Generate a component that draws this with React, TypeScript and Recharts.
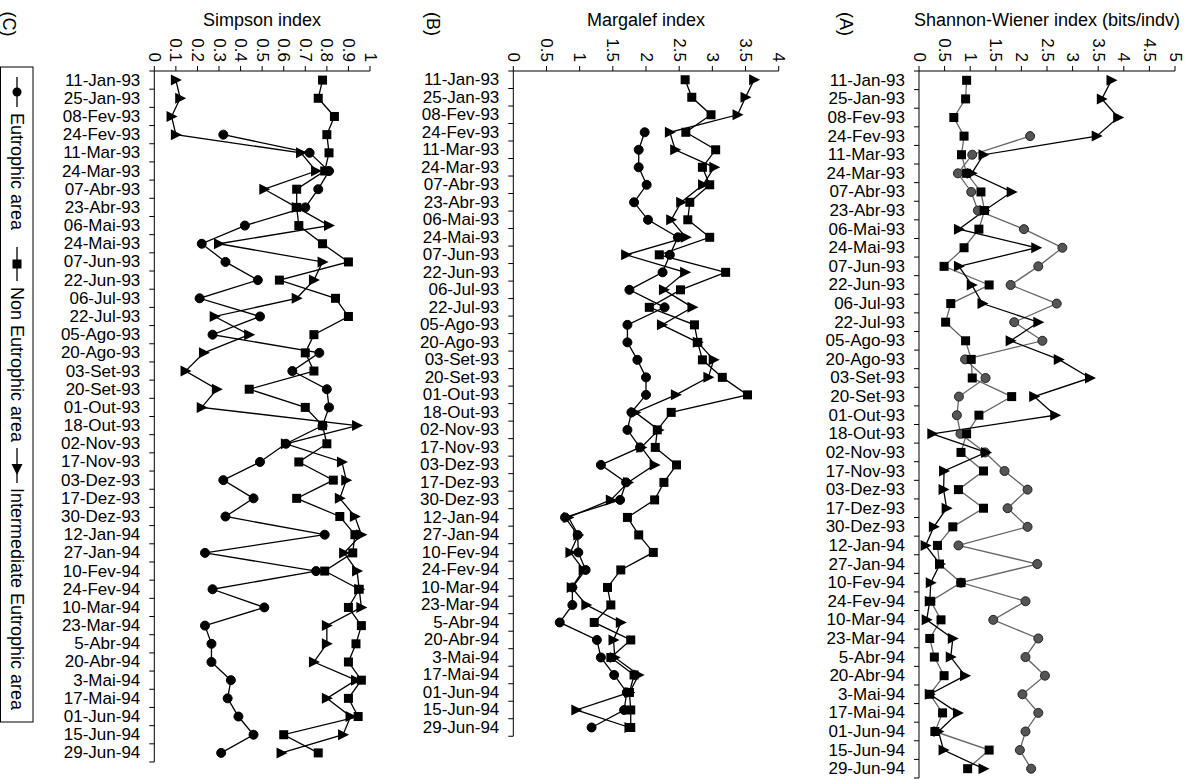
import React from 'react';
import { LineChart, Line, XAxis, YAxis } from 'recharts';

// sampling dates (category axis, same for all three panels)
const dates = [
  '11-Jan-93', '25-Jan-93', '08-Fev-93', '24-Fev-93', '11-Mar-93', '24-Mar-93', '07-Abr-93', '23-Abr-93',
  '06-Mai-93', '24-Mai-93', '07-Jun-93', '22-Jun-93', '06-Jul-93', '22-Jul-93', '05-Ago-93', '20-Ago-93',
  '03-Set-93', '20-Set-93', '01-Out-93', '18-Out-93', '02-Nov-93', '17-Nov-93', '03-Dez-93', '17-Dez-93',
  '30-Dez-93', '12-Jan-94', '27-Jan-94', '10-Fev-94', '24-Fev-94', '10-Mar-94', '23-Mar-94', '5-Abr-94',
  '20-Abr-94', '3-Mai-94', '17-Mai-94', '01-Jun-94', '15-Jun-94', '29-Jun-94',
];

// (C) Simpson index
const simpsonEut = [null, null, null, 0.32, 0.72, 0.81, 0.76, 0.70, 0.42, 0.22, 0.33, 0.48, 0.21, 0.49, 0.27, 0.765, 0.64, 0.80, 0.81, 0.78, 0.61, 0.49, 0.32, 0.46, 0.33, 0.79, 0.235, 0.75, 0.27, 0.51, 0.235, 0.265, 0.265, 0.355, 0.34, 0.39, 0.46, 0.31];
const simpsonNon = [0.78, 0.76, 0.835, 0.80, 0.81, 0.79, 0.66, 0.66, 0.67, 0.78, 0.90, 0.58, 0.84, 0.90, 0.74, 0.70, 0.74, 0.44, 0.70, 0.78, 0.80, 0.67, 0.83, 0.66, 0.86, 0.93, 0.92, 0.79, 0.95, 0.90, 0.96, 0.935, 0.90, 0.96, 0.90, 0.945, 0.60, 0.76];
const simpsonInt = [0.10, 0.12, 0.08, 0.10, 0.68, 0.75, 0.51, 0.66, 0.81, 0.30, 0.78, 0.74, 0.66, 0.28, 0.44, 0.23, 0.145, 0.29, 0.22, 0.94, 0.61, 0.87, 0.89, 0.86, 0.93, 0.96, 0.88, 0.94, 0.95, 0.96, 0.80, 0.80, 0.74, 0.935, 0.80, 0.91, 0.875, 0.59];

// (B) Margalef index
const margalefEut = [null, null, null, 1.98, 1.89, 1.89, 2.01, 1.82, 2.03, 2.48, 2.36, 2.25, 1.75, 2.28, 1.72, 1.72, 1.87, 2.00, 2.00, 1.78, 1.72, 1.91, 1.32, 1.70, 1.61, 0.78, 0.97, 0.98, 1.09, 0.89, 0.89, 0.70, 1.26, 1.32, 1.52, 1.71, 1.67, 1.18];
const margalefNon = [2.59, 2.69, 2.98, 2.60, 3.05, 2.85, 2.96, 2.66, 2.63, 2.96, 2.20, 3.20, 2.52, 2.05, 2.73, 2.78, 2.85, 3.15, 3.53, 2.38, 2.17, 2.14, 2.46, 2.27, 2.13, 1.72, 1.89, 2.11, 1.62, 1.42, 1.47, 1.22, 1.77, 1.47, 1.82, 1.75, 1.77, 1.77];
const margalefInt = [3.63, 3.50, 3.38, 2.36, 2.44, 3.03, 2.86, 2.53, 2.38, 2.60, 1.70, 2.59, 2.27, 2.70, 2.24, 2.78, 3.02, 2.94, 2.45, 1.84, 2.19, 1.93, 2.13, 1.73, 1.47, 0.83, 0.98, 0.86, 1.06, 0.88, 1.10, 1.62, 1.51, 1.53, 1.89, 1.75, 0.95, 1.75];

// (A) Shannon-Wiener index
const shannonEut = [null, null, null, 2.17, 1.04, 0.76, 1.02, 1.15, 2.05, 2.80, 2.33, 1.79, 2.69, 1.86, 2.41, 0.90, 1.30, 0.78, 0.74, 0.81, 1.29, 1.67, 2.12, 1.73, 2.12, 0.77, 2.31, 0.82, 2.08, 1.45, 2.33, 2.08, 2.46, 2.02, 2.33, 2.08, 1.97, 2.19];
const shannonNon = [0.93, 0.91, 0.68, 0.88, 0.83, 0.93, 1.21, 1.28, 1.17, 0.88, 0.49, 1.37, 0.62, 0.52, 0.91, 1.02, 1.04, 1.81, 1.17, 0.93, 0.82, 1.26, 0.77, 1.26, 0.66, 0.36, 0.40, 0.82, 0.23, 0.43, 0.21, 0.30, 0.49, 0.21, 0.46, 0.31, 1.37, 0.95];
const shannonInt = [3.76, 3.57, 3.89, 3.47, 1.26, 1.03, 1.81, 1.28, 0.78, 2.29, 0.78, 1.03, 1.24, 2.33, 1.79, 2.73, 3.34, 2.25, 2.66, 0.26, 1.31, 0.49, 0.48, 0.54, 0.29, 0.13, 0.41, 0.23, 0.21, 0.15, 0.66, 0.62, 0.90, 0.21, 0.76, 0.38, 0.48, 1.26];

const simpsonTicks = [0, 0.1, 0.2, 0.3, 0.4, 0.5, 0.6, 0.7, 0.8, 0.9, 1];
const margalefTicks = [0, 0.5, 1, 1.5, 2, 2.5, 3, 3.5, 4];
const shannonTicks = [0, 0.5, 1, 1.5, 2, 2.5, 3, 3.5, 4, 4.5, 5];

const FONT = '"Liberation Sans", Arial, Helvetica, sans-serif';
const TOP = 71;

function buildRows(eut: (number | null)[], non: number[], int: number[]) {
  return dates.map((d, i) => ({ date: d, eut: eut[i], non: non[i], int: int[i] }));
}

const ok = (v: any) => typeof v === 'number' && Number.isFinite(v);

const circleDot = (fill: string, stroke: string) => (p: any) => {
  if (!ok(p.cx) || !ok(p.cy) || p.value == null) return <g key={`c${p.index}`} />;
  return <circle key={`c${p.index}`} cx={p.cx} cy={p.cy} r={4.5} fill={fill} stroke={stroke} strokeWidth={1} />;
};

const squareDot = (p: any) => {
  if (!ok(p.cx) || !ok(p.cy)) return <g key={`s${p.index}`} />;
  return <rect key={`s${p.index}`} x={p.cx - 4.5} y={p.cy - 4.5} width={9} height={9} fill="#000" />;
};

const triangleDot = (p: any) => {
  if (!ok(p.cx) || !ok(p.cy)) return <g key={`t${p.index}`} />;
  const { cx, cy } = p;
  return <polygon key={`t${p.index}`} points={`${cx - 5},${cy - 5.5} ${cx + 6},${cy} ${cx - 5},${cy + 5.5}`} fill="#000" />;
};

const XTick = (p: any) => (
  <text
    x={p.x}
    y={p.y}
    transform={`rotate(90 ${p.x} ${p.y})`}
    textAnchor="end"
    dominantBaseline="central"
    fontSize={17}
    fontFamily={FONT}
    fill="#000"
  >
    {String(p.payload.value)}
  </text>
);

const makeYTick = (half: number, margin: number) => (p: any) => {
  const ax = p.x + margin;
  return (
    <g key={`y${p.index}`}>
      <text x={p.x} y={p.y} textAnchor="end" dominantBaseline="central" fontSize={17} fontFamily={FONT} fill="#000">
        {p.payload.value}
      </text>
      <line x1={ax - 5} x2={ax} y1={p.y + half} y2={p.y + half} stroke="#000" />
      {p.index === 0 && <line x1={ax - 5} x2={ax} y1={p.y - half} y2={p.y - half} stroke="#000" />}
    </g>
  );
};

type PanelProps = {
  left: number;
  width: number;
  plotLeft: number;
  plotRight: number;
  plotBottom: number;
  max: number;
  ticks: number[];
  rows: any[];
  gray?: boolean;
};

function Panel({ left, width, plotLeft, plotRight, plotBottom, max, ticks, rows, gray }: PanelProps) {
  const yAxisW = 110;
  const xAxisH = 60;
  const tickMargin = 14;
  const half = (plotBottom - TOP) / dates.length / 2;
  const margin = {
    top: TOP - xAxisH,
    left: plotLeft - left - yAxisW,
    right: left + width - plotRight,
    bottom: 780 - plotBottom,
  };
  const eutLine = gray ? '#666' : '#000';
  const nonLine = gray ? '#666' : '#000';

  return (
    <div style={{ position: 'absolute', left, top: 0 }}>
      <LineChart width={width} height={780} data={rows} layout="vertical" margin={margin}>
        <XAxis
          type="number"
          orientation="top"
          domain={[0, max]}
          ticks={ticks}
          interval={0}
          height={xAxisH}
          tickSize={5}
          tickMargin={4}
          stroke="#000"
          tick={XTick}
        />
        <YAxis
          type="category"
          dataKey="date"
          scale="point"
          padding={{ top: half, bottom: half }}
          width={yAxisW}
          interval={0}
          tickSize={0}
          tickMargin={tickMargin}
          tickLine={false}
          stroke="#000"
          tick={makeYTick(half, tickMargin)}
        />
        <Line
          dataKey="eut"
          stroke={eutLine}
          strokeWidth={1.3}
          dot={circleDot(gray ? '#555' : '#000', gray ? '#222' : '#000')}
          isAnimationActive={false}
        />
        <Line dataKey="non" stroke={nonLine} strokeWidth={1.3} dot={squareDot} isAnimationActive={false} />
        <Line dataKey="int" stroke="#000" strokeWidth={1.3} dot={triangleDot} isAnimationActive={false} />
      </LineChart>
    </div>
  );
}

function Overlay() {
  const t = { fontFamily: FONT, fill: '#000' };
  return (
    <svg
      width={1195}
      height={780}
      style={{ position: 'absolute', left: 0, top: 0, pointerEvents: 'none' }}
    >
      {/* panel titles */}
      <text x={262} y={20} textAnchor="middle" dominantBaseline="central" fontSize={18} {...t}>Simpson index</text>
      <text x={646} y={20} textAnchor="middle" dominantBaseline="central" fontSize={18} {...t}>Margalef index</text>
      <text x={1047} y={20} textAnchor="middle" dominantBaseline="central" fontSize={18} {...t}>Shannon-Wiener index (bits/indv)</text>

      {/* panel letters */}
      <text x={9} y={24} transform="rotate(90 9 24)" textAnchor="middle" dominantBaseline="central" fontSize={18} {...t}>(C)</text>
      <text x={433} y={24} transform="rotate(90 433 24)" textAnchor="middle" dominantBaseline="central" fontSize={18} {...t}>(B)</text>
      <text x={846} y={24} transform="rotate(90 846 24)" textAnchor="middle" dominantBaseline="central" fontSize={18} {...t}>(A)</text>

      {/* legend box, rotated content */}
      <rect x={0.5} y={67} width={32.5} height={655} fill="#fff" stroke="#000" strokeWidth={1} />
      <g transform="translate(17 67) rotate(90)">
        <line x1={10} x2={40} y1={0} y2={0} stroke="#000" strokeWidth={1.3} />
        <circle cx={25} cy={0} r={4.5} fill="#000" />
        <text x={46} y={0} dominantBaseline="central" fontSize={18} {...t}>Eutrophic area</text>

        <line x1={180} x2={214} y1={0} y2={0} stroke="#000" strokeWidth={1.3} />
        <rect x={192.5} y={-4.5} width={9} height={9} fill="#000" />
        <text x={220} y={0} dominantBaseline="central" fontSize={18} {...t}>Non Eutrophic area</text>

        <line x1={381} x2={416} y1={0} y2={0} stroke="#000" strokeWidth={1.3} />
        <polygon points="397,-5.5 408,0 397,5.5" fill="#000" />
        <text x={421} y={0} dominantBaseline="central" fontSize={18} {...t}>Intermediate Eutrophic area</text>
      </g>
    </svg>
  );
}

export default function App() {
  return (
    <div style={{ position: 'absolute', left: 0, top: 0, width: 1195, height: 780, background: '#fff', overflow: 'hidden' }}>
      <Panel
        left={0}
        width={385}
        plotLeft={154.3}
        plotRight={370}
        plotBottom={762}
        max={1}
        ticks={simpsonTicks}
        rows={buildRows(simpsonEut, simpsonNon, simpsonInt)}
      />
      <Panel
        left={380}
        width={410}
        plotLeft={513.3}
        plotRight={778.7}
        plotBottom={736.25}
        max={4}
        ticks={margalefTicks}
        rows={buildRows(margalefEut, margalefNon, margalefInt)}
      />
      <Panel
        left={790}
        width={405}
        plotLeft={919}
        plotRight={1175}
        plotBottom={778}
        max={5}
        ticks={shannonTicks}
        rows={buildRows(shannonEut, shannonNon, shannonInt)}
        gray
      />
      <Overlay />
    </div>
  );
}
